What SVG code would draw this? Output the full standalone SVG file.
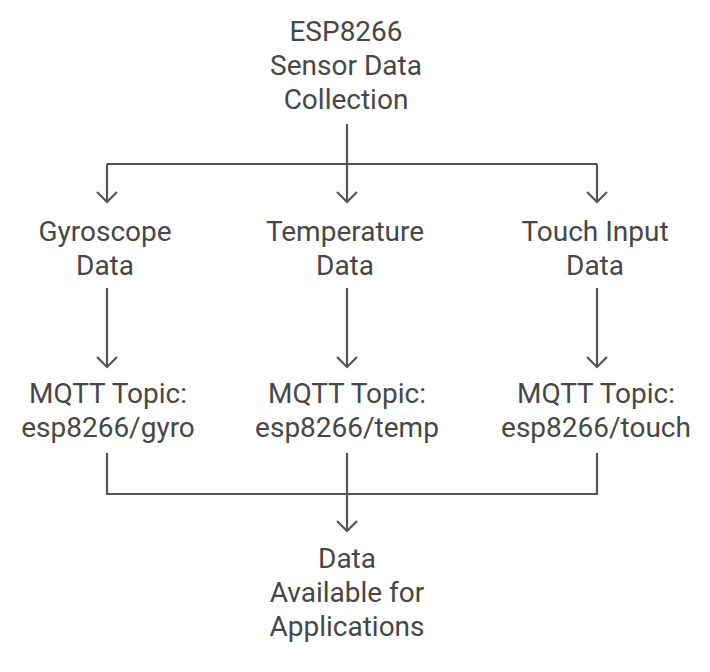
<svg xmlns="http://www.w3.org/2000/svg" width="710" height="672" viewBox="0 0 710 672">
<defs>
<style>
.t{font-family:Roboto,"Liberation Sans",sans-serif;font-size:28px;fill:#474747;text-anchor:middle}
.c{fill:none;stroke:#555;stroke-width:2.2;stroke-linecap:butt;stroke-linejoin:miter}
</style>
<marker id="ah" viewBox="-11 -11 22 22" markerWidth="22" markerHeight="22" refX="0" refY="0" orient="auto" markerUnits="userSpaceOnUse">
<path d="M-10,-10 L0,0 L-10,10" fill="none" stroke="#555" stroke-width="2.2"/>
</marker>
</defs>
<rect width="710" height="672" fill="#fff"/>
<g id="connectors">
<path class="c" d="M347,124 V164 M107,164 H597"/>
<path class="c" d="M107,164 V202" marker-end="url(#ah)"/>
<path class="c" d="M347,164 V202" marker-end="url(#ah)"/>
<path class="c" d="M597,164 V202" marker-end="url(#ah)"/>
<path class="c" d="M107,288 V367" marker-end="url(#ah)"/>
<path class="c" d="M347,288 V367" marker-end="url(#ah)"/>
<path class="c" d="M597,288 V367" marker-end="url(#ah)"/>
<path class="c" d="M107,453 V494 H597 V453 M347,453 V494"/>
<path class="c" d="M347,494 V531" marker-end="url(#ah)"/>
</g>
<g id="esp8266"><text class="t" x="346" y="41">ESP8266</text><text class="t" x="346" y="75">Sensor Data</text><text class="t" x="346" y="109">Collection</text></g>
<g id="gyro"><text class="t" x="105" y="241">Gyroscope</text><text class="t" x="105" y="275">Data</text></g>
<g id="temp"><text class="t" x="345" y="241">Temperature</text><text class="t" x="345" y="275">Data</text></g>
<g id="touch"><text class="t" x="595" y="241">Touch Input</text><text class="t" x="595" y="275">Data</text></g>
<g id="mqtt-gyro"><text class="t" x="108" y="403">MQTT Topic:</text><text class="t" x="108" y="437">esp8266/gyro</text></g>
<g id="mqtt-temp"><text class="t" x="347" y="403">MQTT Topic:</text><text class="t" x="347" y="437">esp8266/temp</text></g>
<g id="mqtt-touch"><text class="t" x="596" y="403">MQTT Topic:</text><text class="t" x="596" y="437">esp8266/touch</text></g>
<g id="apps"><text class="t" x="347" y="568">Data</text><text class="t" x="347" y="602">Available for</text><text class="t" x="347" y="636">Applications</text></g>
</svg>
